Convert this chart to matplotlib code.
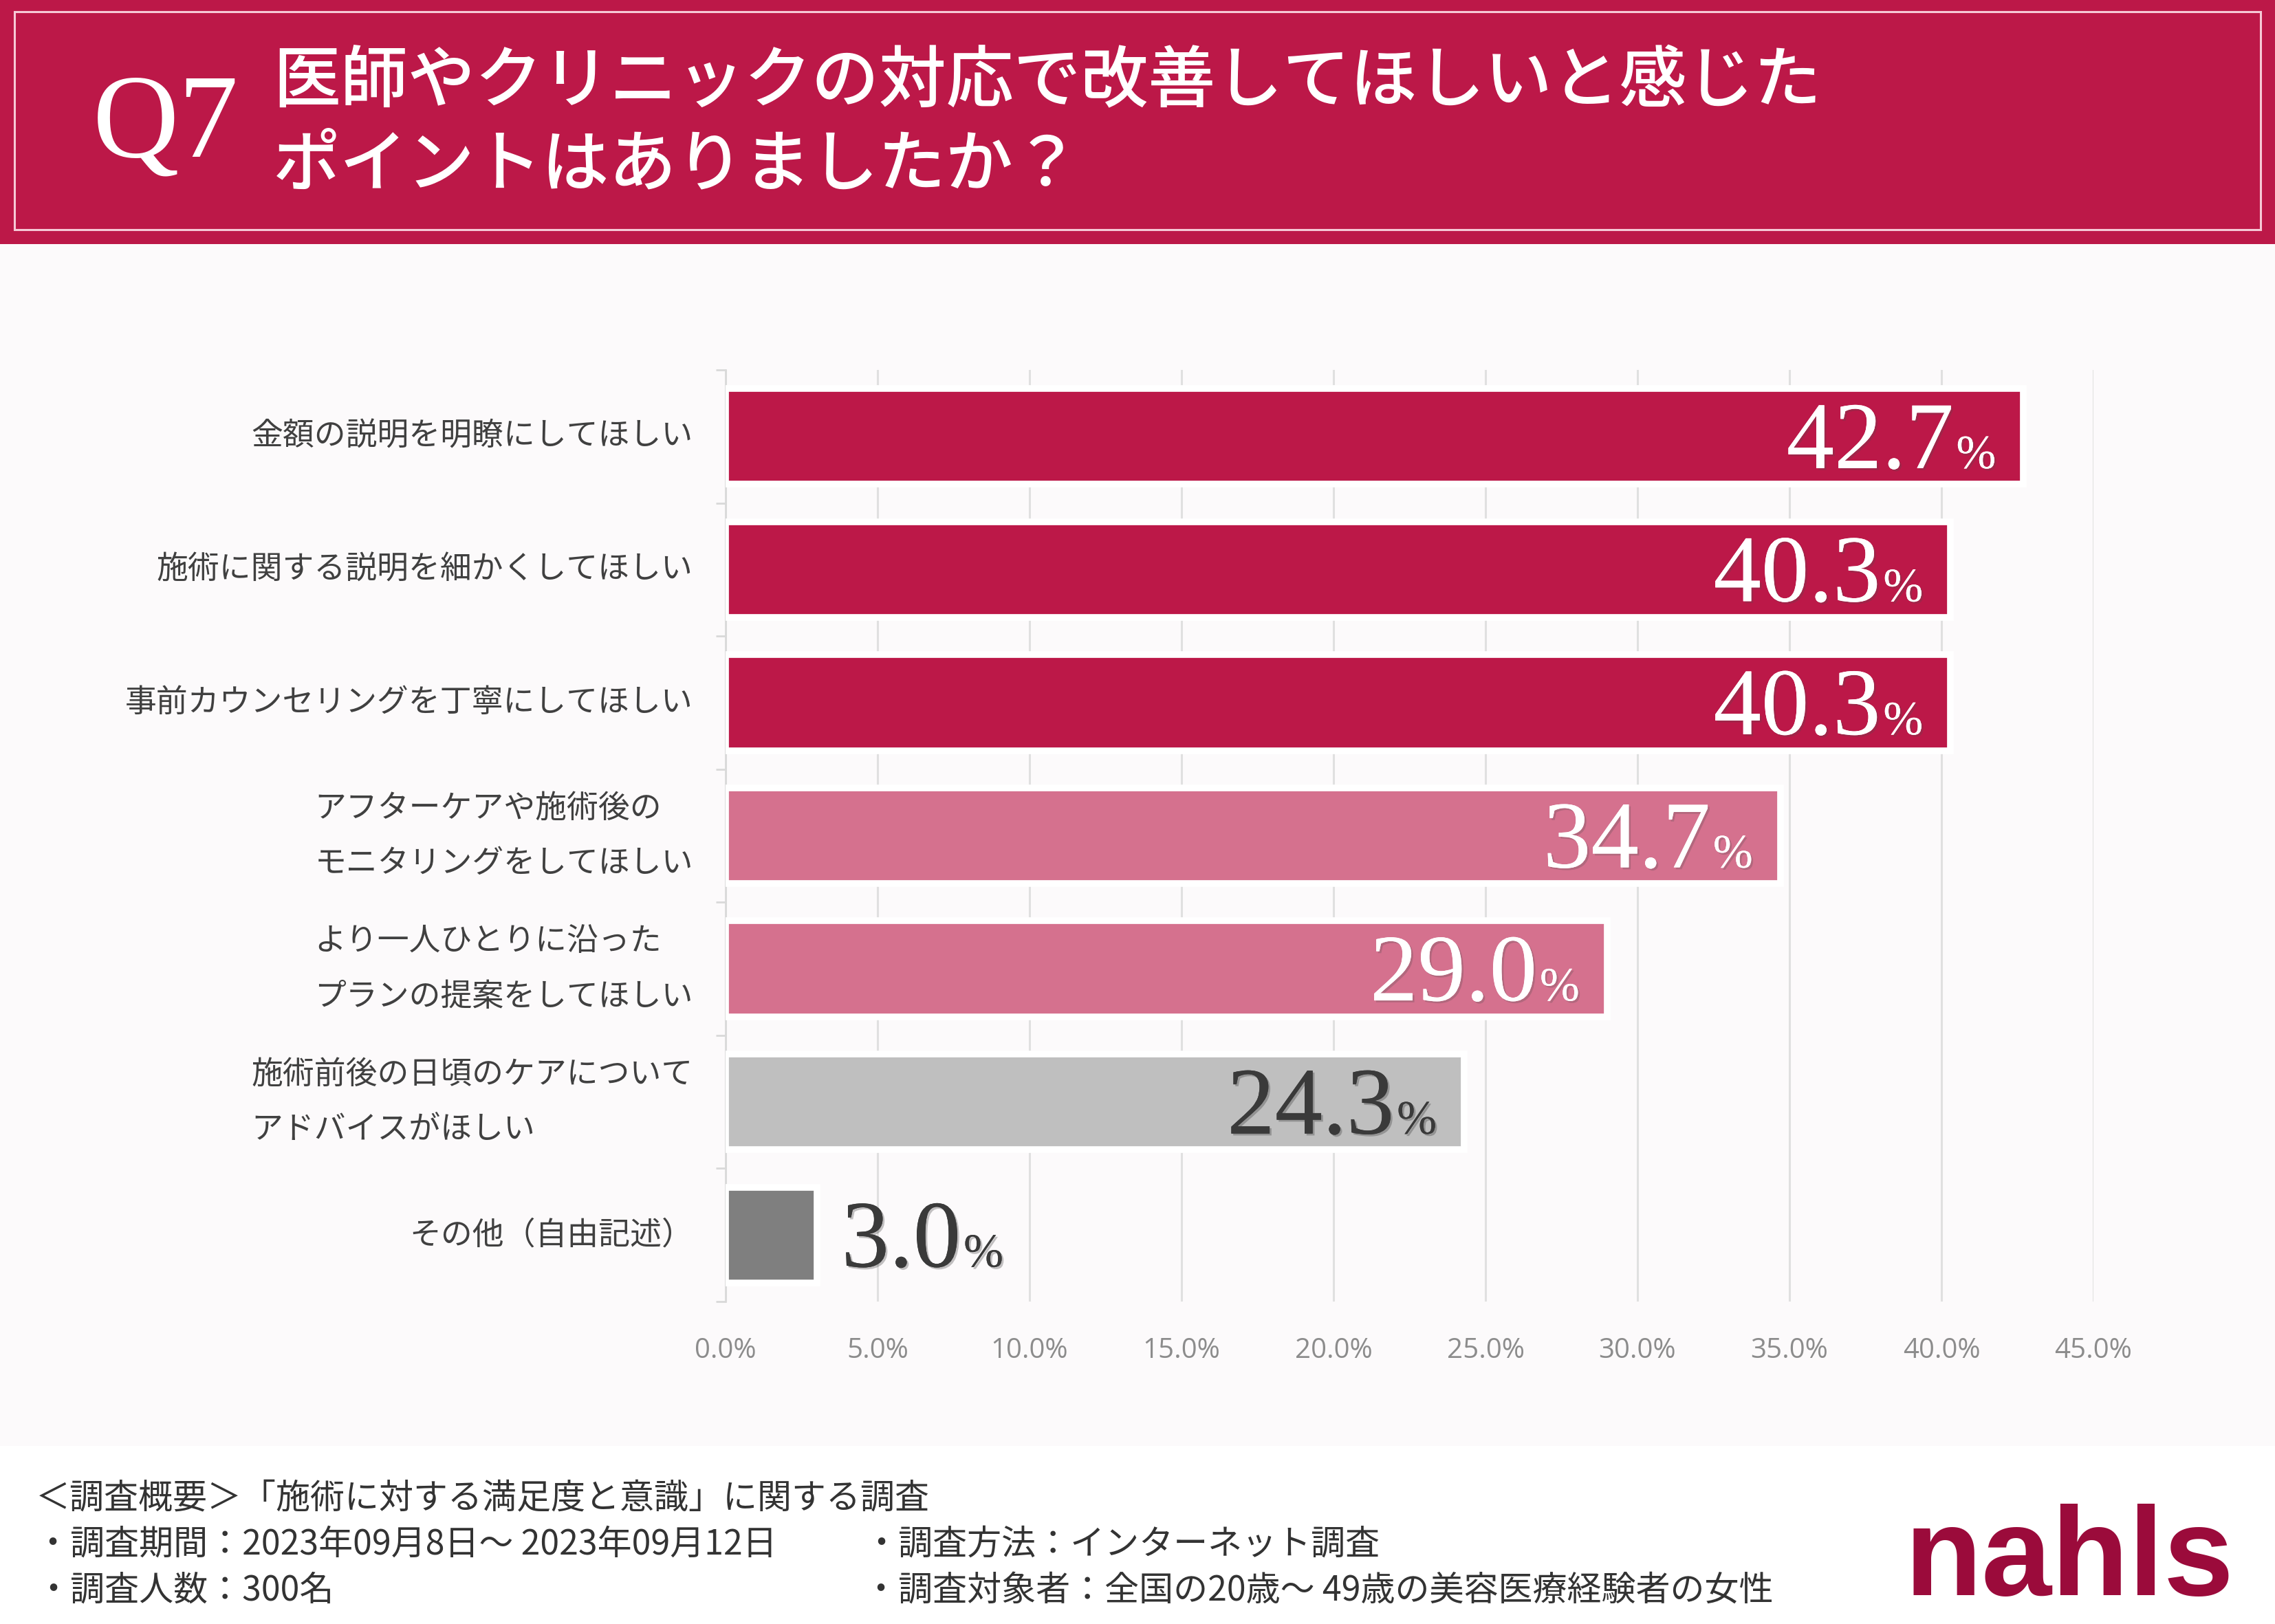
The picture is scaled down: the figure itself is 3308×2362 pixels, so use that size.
import matplotlib
matplotlib.use("Agg")
import matplotlib.pyplot as plt
import matplotlib.patheffects as pe
from matplotlib.patches import Rectangle

plt.rcParams['font.family'] = ['Noto Sans CJK JP', 'DejaVu Sans']

# データ
categories = [
    "金額の説明を明瞭にしてほしい",
    "施術に関する説明を細かくしてほしい",
    "事前カウンセリングを丁寧にしてほしい",
    "アフターケアや施術後の\nモニタリングをしてほしい",
    "より一人ひとりに沿った\nプランの提案をしてほしい",
    "施術前後の日頃のケアについて\nアドバイスがほしい",
    "その他（自由記述）",
]
values = [42.7, 40.3, 40.3, 34.7, 29.0, 24.3, 3.0]
bar_colors = ["#BC1848", "#BC1848", "#BC1848", "#D5718E", "#D5718E", "#BFBFBF", "#7F7F7F"]
label_colors = ["white", "white", "white", "white", "white", "#3A3A3A", "#3A3A3A"]
xticks = [0, 5, 10, 15, 20, 25, 30, 35, 40, 45]

title_q = "Q7"
title_lines = ["医師やクリニックの対応で改善してほしいと感じた", "ポイントはありましたか？"]
footer_head = "＜調査概要＞「施術に対する満足度と意識」に関する調査"
footer_left = ["・調査期間：2023年09月8日～ 2023年09月12日", "・調査人数：300名"]
footer_right = ["・調査方法：インターネット調査", "・調査対象者：全国の20歳～ 49歳の美容医療経験者の女性"]

W, H = 3308, 2362
fig = plt.figure(figsize=(W / 100, H / 100), dpi=100, facecolor="#FCFAFB")


def fy(px):
    return 1 - px / H


def fx(px):
    return px / W


# ヘッダー
fig.add_artist(Rectangle((0, fy(355)), 1, 355 / H, transform=fig.transFigure,
                         facecolor="#BC1848", edgecolor="none", zorder=0))
fig.add_artist(Rectangle((fx(21), fy(334)), fx(3287 - 21), (334 - 17) / H,
                         transform=fig.transFigure, facecolor="none",
                         edgecolor="#F6C9D6", linewidth=2.2, zorder=1))
fig.text(fx(135), fy(185), title_q, color="white", fontsize=125,
         family="Liberation Serif", ha="left", va="center")
fig.text(fx(397), fy(121), title_lines[0], color="white", fontsize=70.5,
         weight="medium", ha="left", va="center")
fig.text(fx(397), fy(242), title_lines[1], color="white", fontsize=70.5,
         weight="medium", ha="left", va="center")

# フッター
fig.add_artist(Rectangle((0, 0), 1, fy(2103), transform=fig.transFigure,
                         facecolor="white", edgecolor="none", zorder=0))
fig.text(fx(52), fy(2179), footer_head, fontsize=36, color="#333333", va="center")
for i, t in enumerate(footer_left):
    fig.text(fx(52), fy(2247 + 67 * i), t, fontsize=36, color="#333333", va="center")
for i, t in enumerate(footer_right):
    fig.text(fx(1256), fy(2247 + 67 * i), t, fontsize=36, color="#333333", va="center")
fig.text(fx(2770), fy(2320), "nahls", fontsize=132, weight="bold",
         family="Liberation Sans", color="#9B0B3B", ha="left", va="baseline")

# グラフ
ax = fig.add_axes([fx(1055), fy(1893), fx(3044 - 1055), (1893 - 538) / H])
ax.set_facecolor("none")
y = list(range(len(values)))
ax.barh(y, values, height=0.72, color=bar_colors, edgecolor="white",
        linewidth=7, zorder=3)
ax.set_xlim(0, 45)
ax.set_ylim(len(values) - 0.5, -0.5)

ax.set_xticks(xticks)
ax.set_xticklabels([f"{v:.1f}%" for v in xticks], family="Open Sans",
                   fontsize=29, color="#8C8C8C")
ax.tick_params(axis="x", length=0, pad=37)
ax.xaxis.grid(True, color="#E0E0E0", linewidth=2.2, zorder=0)
ax.set_axisbelow(True)

ax.set_yticks(y)
ax.set_yticklabels(categories, fontsize=33, color="#404040", linespacing=1.85)
for t in ax.get_yticklabels():
    t.set_multialignment("left")
    t.set_va("center")
ax.set_yticks([i - 0.5 for i in range(len(values) + 1)], minor=True)
ax.tick_params(axis="y", which="major", length=0, pad=34)
ax.tick_params(axis="y", which="minor", length=10, width=2, color="#D9D9D9")

for s in ["top", "right", "bottom"]:
    ax.spines[s].set_visible(False)
ax.spines["left"].set_color("#D9D9D9")
ax.spines["left"].set_linewidth(2)

# 数値ラベル
renderer = fig.canvas.get_renderer()
shadow = [pe.withSimplePatchShadow(offset=(2, -2), alpha=0.25), pe.Normal()]
for yi, v, c in zip(y, values, label_colors):
    if v > 10:
        pct = ax.annotate("%", (v, yi), xytext=(-40, -46), textcoords="offset pixels",
                          ha="right", va="baseline", fontsize=50, color=c,
                          family="Liberation Serif", zorder=5, path_effects=shadow)
        w = pct.get_window_extent(renderer).width
        ax.annotate(f"{v:.1f}", (v, yi), xytext=(-40 - w - 4, -46),
                    textcoords="offset pixels", ha="right", va="baseline",
                    fontsize=100, color=c, family="Liberation Serif", zorder=5,
                    path_effects=shadow)
    else:
        num = ax.annotate(f"{v:.1f}", (v, yi), xytext=(36, -46),
                          textcoords="offset pixels", ha="left", va="baseline",
                          fontsize=100, color=c, family="Liberation Serif", zorder=5,
                          path_effects=shadow)
        w = num.get_window_extent(renderer).width
        ax.annotate("%", (v, yi), xytext=(36 + w + 4, -46), textcoords="offset pixels",
                    ha="left", va="baseline", fontsize=50, color=c,
                    family="Liberation Serif", zorder=5, path_effects=shadow)

fig.savefig("out.png", dpi=100, facecolor=fig.get_facecolor())
